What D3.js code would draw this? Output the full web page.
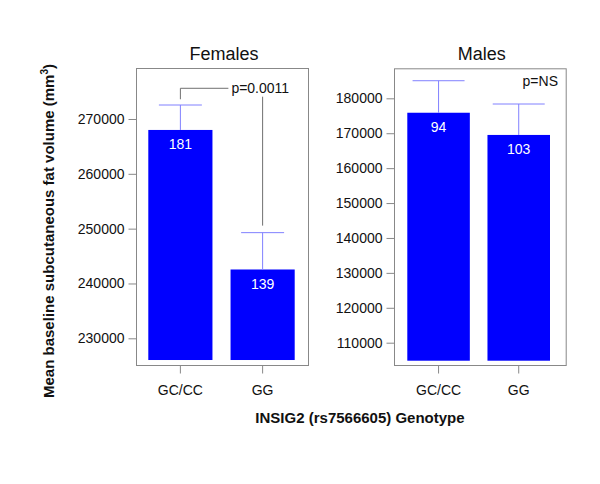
<!DOCTYPE html>
<html><head><meta charset="utf-8">
<script src="https://cdn.jsdelivr.net/npm/d3@7"></script>
<style>body{margin:0;background:#fff}svg{display:block}text{font-family:Arial,"Liberation Sans",sans-serif}</style>
</head><body><svg id="c" width="600" height="484"></svg>
<script>
// ---- data ----
const genotypes = ["GC/CC", "GG"];
const femaleMeans = [268000, 242550];
const femaleErrTop = [272550, 249270];
const femaleN = ["181", "139"];
const maleMeans = [175870, 169510];
const maleErrTop = [185040, 178370];
const maleN = ["94", "103"];
const femaleTicks = [230000, 240000, 250000, 260000, 270000];
const maleTicks = [110000, 120000, 130000, 140000, 150000, 160000, 170000, 180000];
const femaleDomain = [225130, 279300];
const maleDomain = [103610, 188600];
const femaleBase = 226040;
const maleBase = 104840;
const femaleP = "p=0.0011";
const maleP = "p=NS";
// bracket levels (data units) for female p-value annotation
const bracketTop = 275600, bracketLeftEnd = 273600, bracketRightTop = 274070, bracketRightEnd = 250550;

const svg = d3.select("#c");
const barColor = "#0000ff", errColor = "#8080ff", boxColor = "#888888";

function panel(cfg) {
  const y = d3.scaleLinear().domain(cfg.domain).range([365, cfg.top]);
  const x = d3.scaleBand().domain(genotypes).range(cfg.barRange).paddingInner(0.22).paddingOuter(0);
  const g = svg.append("g");
  // bars
  g.selectAll("rect.bar").data(cfg.means).join("rect")
    .attr("x", (d, i) => x(genotypes[i])).attr("width", x.bandwidth())
    .attr("y", d => y(d)).attr("height", d => y(cfg.base) - y(d))
    .attr("fill", barColor);
  // error bars
  const cx = i => x(genotypes[i]) + x.bandwidth() / 2;
  g.selectAll("line.ev").data(cfg.err).join("line")
    .attr("x1", (d, i) => cx(i)).attr("x2", (d, i) => cx(i))
    .attr("y1", (d, i) => y(cfg.means[i])).attr("y2", d => y(d))
    .attr("stroke", errColor).attr("stroke-width", 1);
  g.selectAll("line.ec").data(cfg.err).join("line")
    .attr("x1", (d, i) => cx(i) - cfg.cap / 2).attr("x2", (d, i) => cx(i) + cfg.cap / 2)
    .attr("y1", d => y(d)).attr("y2", d => y(d))
    .attr("stroke", errColor).attr("stroke-width", 1);
  // n labels
  g.selectAll("text.n").data(cfg.n).join("text")
    .attr("x", (d, i) => cx(i)).attr("y", (d, i) => y(cfg.means[i]) + 19.5)
    .attr("text-anchor", "middle").attr("fill", "#fff").attr("font-size", 14).text(d => d);
  // box
  g.append("rect").attr("x", cfg.box[0] + 0.5).attr("y", cfg.top + 0.5)
    .attr("width", cfg.box[1] - cfg.box[0]).attr("height", 365 - cfg.top)
    .attr("fill", "none").attr("stroke", boxColor).attr("stroke-width", 1);
  // y axis
  const ya = d3.axisLeft(y).tickValues(cfg.ticks).tickSize(8).tickPadding(4).tickFormat(d3.format("d"));
  const yg = g.append("g").attr("transform", `translate(${cfg.box[0] + 0.5},0)`).call(ya);
  yg.select(".domain").remove();
  yg.selectAll(".tick line").attr("stroke", boxColor);
  yg.selectAll(".tick text").attr("font-size", 14).attr("fill", "#111").attr("font-family", "Arial,'Liberation Sans',sans-serif");
  // x axis
  const xa = d3.axisBottom(x).tickSize(8).tickPadding(12);
  const xg = g.append("g").attr("transform", `translate(0,${365.5})`).call(xa);
  xg.select(".domain").remove();
  xg.selectAll(".tick line").attr("stroke", boxColor);
  xg.selectAll(".tick text").attr("font-size", 14).attr("fill", "#111").attr("font-family", "Arial,'Liberation Sans',sans-serif");
  // title
  g.append("text").attr("x", (cfg.box[0] + cfg.box[1]) / 2 + 2).attr("y", 60)
    .attr("text-anchor", "middle").attr("font-size", 18).attr("fill", "#111").text(cfg.title);
  return { x, y, cx, g };
}

const f = panel({ domain: femaleDomain, top: 68, barRange: [148.3, 294.7], box: [136, 308],
  means: femaleMeans, err: femaleErrTop, n: femaleN, base: femaleBase, ticks: femaleTicks, cap: 43, title: "Females" });
const m = panel({ domain: maleDomain, top: 68.3, barRange: [407.3, 550], box: [394, 565.7],
  means: maleMeans, err: maleErrTop, n: maleN, base: maleBase, ticks: maleTicks, cap: 52, title: "Males" });

// female p-value bracket
const bc = "#707070";
const lx = f.cx(0), rx = f.cx(1);
f.g.append("path").attr("fill", "none").attr("stroke", bc).attr("stroke-width", 1)
  .attr("d", `M${lx},${f.y(bracketLeftEnd)}V${f.y(bracketTop)}H${lx + 48}`);
f.g.append("line").attr("x1", rx).attr("x2", rx).attr("y1", f.y(bracketRightTop)).attr("y2", f.y(bracketRightEnd))
  .attr("stroke", bc).attr("stroke-width", 1);
f.g.append("text").attr("x", lx + 51).attr("y", f.y(bracketTop) + 5).attr("font-size", 14).attr("fill", "#111").text(femaleP);
m.g.append("text").attr("x", 558).attr("y", 85.5).attr("text-anchor", "end").attr("font-size", 14).attr("fill", "#111").text(maleP);

// axis titles
svg.append("text").attr("transform", "translate(54,231) rotate(-90)").attr("text-anchor", "middle")
  .attr("font-size", 15).attr("font-weight", "bold").attr("fill", "#111")
  .call(t => { t.append("tspan").text("Mean baseline subcutaneous fat volume (mm");
               t.append("tspan").attr("font-size", 10).attr("dy", -6).text("3");
               t.append("tspan").attr("dy", 6).text(")"); });
svg.append("text").attr("x", 360).attr("y", 423).attr("text-anchor", "middle")
  .attr("font-size", 15).attr("font-weight", "bold").attr("fill", "#111").text("INSIG2 (rs7566605) Genotype");
</script></body></html>
